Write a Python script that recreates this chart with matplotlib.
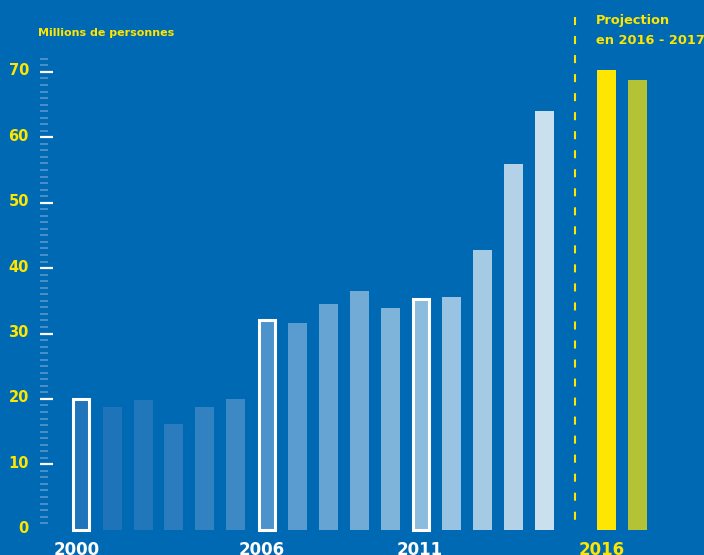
import matplotlib
matplotlib.use("Agg")
import matplotlib.pyplot as plt
import matplotlib.transforms as mtransforms
import numpy as np

# ---- data ----
years = list(range(2000, 2016))
values = [20.0, 18.7, 19.8, 16.2, 18.7, 20.0, 32.0, 31.6, 34.5, 36.5, 33.9, 35.2, 35.6, 42.7, 55.9, 64.0]
proj_years = [2016, 2017]
proj_values = [70.3, 68.7]
outlined_years = [2000, 2006, 2011]
label_years = ["2000", "2006", "2011"]
proj_label = "2016"
y_major = [0, 10, 20, 30, 40, 50, 60, 70]
y_minor = [v for v in range(1, 73) if v % 10 != 0]
unit_label = "Millions de personnes"
proj_title = "Projection\nen 2016 - 2017"

# ---- style ----
BG = "#0069b3"
YELLOW = "#ffe600"
GREEN = "#b3c335"
bar_colors = ["#1f74ba", "#1f74b9", "#2277bb", "#2a7cbf", "#3282c2", "#3d89c6",
              "#4d93cb", "#5a9ccf", "#66a4d3", "#72acd6", "#7fb4da", "#8bbcde",
              "#98c3e2", "#a5cae4", "#b3d2e7", "#cae0ee"]
xlabel_shift_px = [-4.5, -4.5, -1, -4.5]

W, H = 704, 555
fig = plt.figure(figsize=(W / 100, H / 100), dpi=100, facecolor=BG)

base_px = 529.7       # baseline pixel row (from top)
px_per_unit = 6.54
left_px = 40
x0_px, step_px = 81.3, 30.88

ax = fig.add_axes([left_px / W, (H - base_px) / H, (W - left_px) / W, base_px / H])
ax.set_facecolor(BG)
ax.set_ylim(0, base_px / px_per_unit)
ax.set_xlim((left_px - x0_px) / step_px, (W - x0_px) / step_px)
for s in ax.spines.values():
    s.set_visible(False)

bar_w = 19 / step_px
lw_out = 2.2
inset = (lw_out / 72 * 100) / step_px

pos = np.arange(len(years))
for i, (y, v, c) in enumerate(zip(years, values, bar_colors)):
    if y in outlined_years:
        ax.bar(pos[i], v, width=bar_w - inset, color=c, edgecolor="white",
               linewidth=lw_out, clip_on=False, zorder=3)
    else:
        ax.bar(pos[i], v, width=bar_w, color=c, linewidth=0, zorder=3)

proj_pos = np.array([len(years) + 1, len(years) + 2])
ax.bar(proj_pos, proj_values, width=bar_w, color=[YELLOW, GREEN], linewidth=0, zorder=3)

# dashed separator
sep_x = len(years)
lw_dash = 1.5
top_v = (base_px - 17) / px_per_unit
bot_v = (base_px - 521) / px_per_unit
ax.plot([sep_x, sep_x], [top_v, bot_v], color=YELLOW, lw=lw_dash,
        linestyle=(0, (5.8 / lw_dash, 7.9 / lw_dash)), solid_capstyle="butt",
        dash_capstyle="butt", zorder=2)

# y axis ticks
ax.set_yticks(y_major)
ax.set_yticklabels([str(v) for v in y_major], color=YELLOW, fontsize=10.5,
                   fontweight="bold", family="DejaVu Sans")
ax.set_yticks(y_minor, minor=True)
ax.tick_params(axis="y", which="major", direction="in", length=9.2, width=1.6,
               color="white", pad=8)
ax.tick_params(axis="y", which="minor", direction="in", length=6, width=1.1,
               color="#5c9bd0")
ax.yaxis.get_major_ticks()[0].tick1line.set_visible(False)
for t in ax.get_yticklabels():
    t.set_transform(t.get_transform() + mtransforms.ScaledTranslation(0, 2.5 / 100, fig.dpi_scale_trans))

# x labels
xt = [years.index(int(l)) for l in label_years] + [proj_pos[0]]
ax.set_xticks(xt)
ax.set_xticklabels(label_years + [proj_label], fontsize=12, fontweight="bold",
                   family="DejaVu Sans")
ax.tick_params(axis="x", length=0, pad=7.8)
for t, dx in zip(ax.get_xticklabels(), xlabel_shift_px):
    t.set_color("white")
    t.set_transform(t.get_transform() + mtransforms.ScaledTranslation(dx / 100, 0, fig.dpi_scale_trans))
ax.get_xticklabels()[-1].set_color(YELLOW)

# texts
fig.text(38 / W, 1 - 33 / H, unit_label, color=YELLOW, fontsize=8, fontweight="bold",
         ha="left", va="center", family="DejaVu Sans")
fig.text(596 / W, 1 - 14 / H, proj_title, color=YELLOW, fontsize=9.3, fontweight="bold",
         ha="left", va="top", linespacing=1.75, family="DejaVu Sans")

fig.savefig("out.png", dpi=100, facecolor=BG)
